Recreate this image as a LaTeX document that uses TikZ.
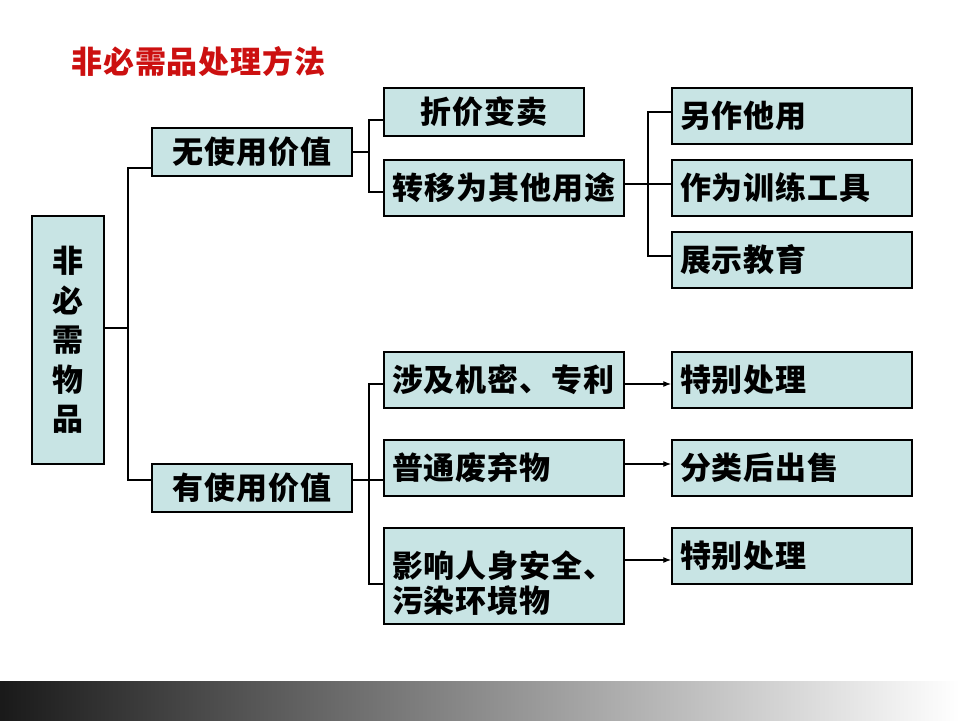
\documentclass[tikz,border=0pt]{standalone}
\usepackage{fontspec}
\usetikzlibrary{arrows.meta}
\newfontfamily\cjk{Noto Sans CJK SC}[LetterSpace=3]
\definecolor{boxfill}{RGB}{200,228,228}
\definecolor{titlered}{RGB}{204,16,16}
\tikzset{
  box/.style={draw=black, fill=boxfill, line width=1.4pt, inner xsep=8pt, inner ysep=0pt,
    font=\cjk\bfseries\fontsize{31}{35}\selectfont, text=black},
  wide/.style={box, minimum width=240pt, text width=224pt, minimum height=56pt, align=left},
  narrow/.style={box, minimum width=200pt, text width=184pt, minimum height=48pt, align=center},
  conn/.style={line width=1.3pt, draw=black},
  arr/.style={conn, -{Latex[length=8pt,width=6pt]}}
}
\begin{document}
\begin{tikzpicture}[x=1pt,y=-1pt]
\useasboundingbox (0,0) rectangle (960,720);
\fill[white] (0,0) rectangle (960,720);
% bottom gradient bar
\shade[left color=black!90, right color=white] (0,681) rectangle (960,720);
% title
\node[anchor=west, inner sep=0pt, text=titlered, font=\cjk\bfseries\fontsize{31}{34}\selectfont] (title) at (71,62) {非必需品处理方法};
% root
\node[box, minimum width=72pt, minimum height=248pt, text width=40pt, align=center,
  font=\cjk\bfseries\fontsize{31}{39.5}\selectfont] (root) at (68,340) {非\\必\\需\\物\\品};
% level 1
\node[narrow] (wu) at (252,152) {无使用价值};
\node[narrow] (you) at (252,488) {有使用价值};
% level 2 upper
\node[narrow] (a1) at (484,112) {折价变卖};
\node[wide, align=center] (a2) at (504,188) {转移为其他用途};
% level 3 upper
\node[wide] (r1) at (792,116) {另作他用};
\node[wide] (r2) at (792,188) {作为训练工具};
\node[wide] (r3) at (792,260) {展示教育};
% level 2 lower
\node[wide] (b1) at (504,380) {涉及机密、专利};
\node[wide] (b2) at (504,468) {普通废弃物};
\node[wide, minimum height=96pt] (b3) at (504,576) {};
\node[box, draw=none, fill=none, anchor=center, text width=224pt, align=left] (b3t) at (504,583) {影响人身安全、\\污染环境物};
% level 3 lower
\node[wide] (c1) at (792,380) {特别处理};
\node[wide] (c2) at (792,468) {分类后出售};
\node[wide] (c3) at (792,556) {特别处理};
% junctions
\coordinate (t) at (128,328);
\coordinate (s) at (369,152);
\coordinate (u) at (648,184);
\coordinate (v) at (369,480);
% connectors
\draw[conn] ([yshift=12pt]root.east) -- (t);
\draw[conn] ([yshift=-16pt]wu.west) -| (t) |- ([yshift=8pt]you.west);
\draw[conn] (wu.east) -- (s);
\draw[conn] ([yshift=-8pt]a1.west) -| (s) |- ([yshift=-4pt]a2.west);
\draw[conn] ([yshift=4pt]a2.east) -- ([yshift=4pt]r2.west);
\draw[conn] ([yshift=4pt]r1.west) -| (u) |- ([yshift=4pt]r3.west);
\draw[conn] ([yshift=8pt]you.east) -- ([yshift=-12pt]b2.west);
\draw[conn] ([yshift=-4pt]b1.west) -| (v) |- ([yshift=-8pt]b3.west);
\draw[arr] ([yshift=-4pt]b1.east) -- ([yshift=-4pt]c1.west);
\draw[arr] ([yshift=4pt]b2.east) -- ([yshift=4pt]c2.west);
\draw[arr] ([yshift=16pt]b3.east) -- ([yshift=-4pt]c3.west);
\end{tikzpicture}
\end{document}
